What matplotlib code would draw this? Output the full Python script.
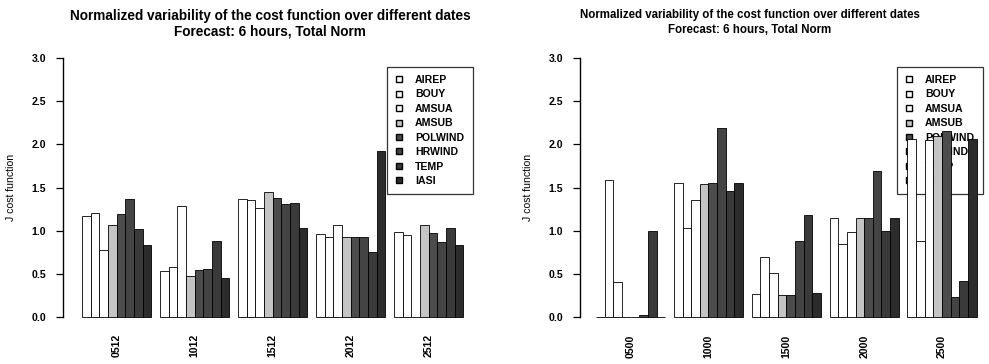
import matplotlib
matplotlib.use('Agg')
import matplotlib.pyplot as plt
from matplotlib.lines import Line2D

plt.rcParams['font.family'] = ['Liberation Sans', 'DejaVu Sans']

# observation types (one bar each, per date)
obs = ["AIREP", "BOUY", "AMSUA", "AMSUB", "POLWIND", "HRWIND", "TEMP", "IASI"]
colors = ["#ffffff", "#ffffff", "#ffffff", "#c4c4c4", "#4c4c4c", "#444444", "#3a3a3a", "#2c2c2c"]

# left panel: 12 UTC dates (day + hour)
dates12 = ["0512", "1012", "1512", "2012", "2512"]
vals12 = [
    [1.17, 0.53, 1.37, 0.96, 0.98],  # AIREP
    [1.20, 0.58, 1.36, 0.93, 0.95],  # BOUY
    [0.78, 1.29, 1.26, 1.07, 0.00],  # AMSUA
    [1.07, 0.48, 1.45, 0.93, 1.07],  # AMSUB
    [1.19, 0.54, 1.38, 0.93, 0.97],  # POLWIND
    [1.37, 0.56, 1.31, 0.93, 0.87],  # HRWIND
    [1.02, 0.88, 1.32, 0.75, 1.03],  # TEMP
    [0.83, 0.45, 1.03, 1.92, 0.83],  # IASI
]

# right panel: 00 UTC dates
dates00 = ["0500", "1000", "1500", "2000", "2500"]
vals00 = [
    [0.00, 1.55, 0.27, 1.15, 2.06],  # AIREP
    [1.59, 1.03, 0.69, 0.84, 0.88],  # BOUY
    [0.41, 1.35, 0.51, 0.99, 2.05],  # AMSUA
    [0.00, 1.54, 0.25, 1.15, 2.10],  # AMSUB
    [0.00, 1.55, 0.26, 1.15, 2.15],  # POLWIND
    [0.02, 2.19, 0.88, 1.69, 0.23],  # HRWIND
    [1.00, 1.46, 1.18, 1.00, 0.42],  # TEMP
    [0.00, 1.55, 0.28, 1.15, 2.06],  # IASI
]

title = "Normalized variability of the cost function over different dates\nForecast: 6 hours, Total Norm"


def drawPanel(ax, values, dates, xlim, fs):
    # grouped bars like R barplot(beside=TRUE), one empty slot between dates
    nObs = len(values)
    for i, series in enumerate(values):
        for j, v in enumerate(series):
            ax.bar(1 + j * (nObs + 1) + i, v, width=1.0, align='edge',
                   color=colors[i], edgecolor='black', linewidth=0.6, zorder=2)
    centers = [1 + j * (nObs + 1) + nObs / 2 for j in range(len(dates))]
    ax.set_xticks(centers)
    ax.set_xticklabels(dates, rotation=90, fontsize=fs, fontweight='bold')
    ax.tick_params(axis='x', length=0, pad=5)
    ax.set_xlim(*xlim)
    ax.set_ylim(-0.12, 3.12)
    ax.set_yticks([0, 0.5, 1.0, 1.5, 2.0, 2.5, 3.0])
    ax.set_yticklabels(["0.0", "0.5", "1.0", "1.5", "2.0", "2.5", "3.0"], fontsize=fs, fontweight='bold')
    ax.tick_params(axis='y', length=5, width=0.9, pad=7)
    for side in ["top", "right", "bottom"]:
        ax.spines[side].set_visible(False)
    ax.spines['left'].set_bounds(0, 3)
    ax.spines['left'].set_linewidth(1.0)
    ax.set_ylabel("J cost function", fontsize=fs, labelpad=11)

    # legend without fill, bars may cross it
    handles = [Line2D([], [], marker='s', linestyle='none', markersize=5,
                      markerfacecolor=c, markeredgecolor='black', markeredgewidth=1.0) for c in colors]
    leg = ax.legend(handles, obs, loc='upper right', bbox_to_anchor=(1.0, 0.955), fontsize=fs,
                    frameon=True, fancybox=False, edgecolor='black', facecolor='none',
                    handlelength=0.8, handletextpad=1.1, labelspacing=0.42, borderpad=0.8,
                    borderaxespad=0.6)
    leg.get_frame().set_linewidth(0.9)
    for t in leg.get_texts():
        t.set_fontweight('bold')
    leg.set_zorder(1)


fig = plt.figure(figsize=(9.89, 3.64), dpi=100)
axL = fig.add_axes([63 / 989, 36.6 / 364, 416 / 989, 279.8 / 364])
axR = fig.add_axes([580 / 989, 36.6 / 364, 409 / 989, 279.8 / 364])

drawPanel(axL, vals12, dates12, (-1.2, 46.8), 7.6)
drawPanel(axR, vals00, dates00, (-0.85, 46.43), 7.6)

fig.text(270 / 989, 1 - 9 / 364, title, ha='center', va='top', fontsize=9.8, fontweight='bold', linespacing=1.15)
fig.text(750 / 989, 1 - 9 / 364, title, ha='center', va='top', fontsize=8.3, fontweight='bold', linespacing=1.3)

fig.savefig("out.png", dpi=100)
